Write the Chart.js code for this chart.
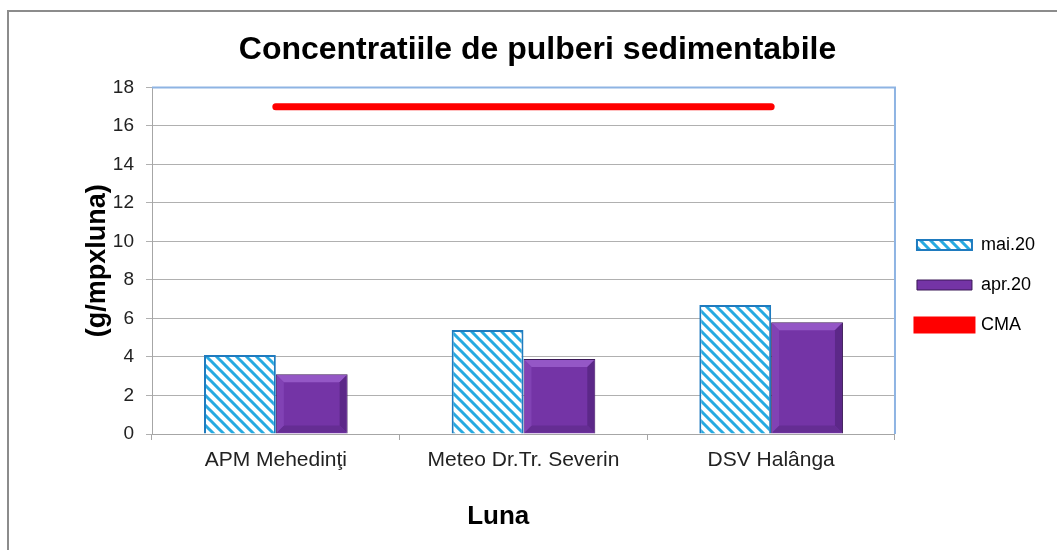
<!DOCTYPE html>
<html>
<head>
<meta charset="utf-8">
<script src="https://cdn.jsdelivr.net/npm/chart.js@4.4.1/dist/chart.umd.min.js"></script>
<style>
  html, body { margin: 0; padding: 0; background: #fff; }
  #wrap { width: 1057px; height: 550px; }
</style>
</head>
<body>
<div id="wrap"><canvas id="pulberiChart" width="1057" height="550"></canvas></div>
<script>
// Date
const statii = ['APM Mehedinţi', 'Meteo Dr.Tr. Severin', 'DSV Halânga'];
const mai20 = [4.1, 5.4, 6.7];
const apr20 = [3.1, 3.9, 5.8];
const cma = [17, 17, 17];

const FONT = 'Liberation Sans, Arial, sans-serif';

// Hasura diagonala albastra pentru mai.20
function hatchPattern() {
    const c = document.createElement('canvas');
    c.width = 10; c.height = 10;
    const g = c.getContext('2d');
    g.fillStyle = '#ffffff';
    g.fillRect(0, 0, 10, 10);
    g.strokeStyle = '#27aae1';
    g.lineWidth = 3;
    g.beginPath();
    g.moveTo(-2, -2); g.lineTo(12, 12);
    g.moveTo(-7, 3); g.lineTo(7, 17);
    g.moveTo(3, -7); g.lineTo(17, 7);
    g.stroke();
    return g.createPattern(c, 'repeat');
}
const hasura = hatchPattern();

// Chenar exterior + margini albastre ale zonei graficului
const chenar = {
    id: 'chenar',
    beforeDraw(chart) {
        const ctx = chart.ctx;
        ctx.save();
        ctx.fillStyle = '#ffffff';
        ctx.fillRect(0, 0, chart.width, chart.height);
        ctx.strokeStyle = '#8c8c8c';
        ctx.lineWidth = 2;
        ctx.beginPath();
        ctx.moveTo(8, chart.height);
        ctx.lineTo(8, 11);
        ctx.lineTo(chart.width, 11);
        ctx.stroke();
        ctx.restore();
    },
    afterDatasetsDraw(chart) {
        const ctx = chart.ctx;
        // efect de relief pe barele apr.20
        const meta = chart.getDatasetMeta(1);
        const b = 7;
        meta.data.forEach(bar => {
            const l = bar.x - bar.width / 2 + 1, r = bar.x + bar.width / 2 - 1;
            const t = bar.y + 1, bo = bar.base - 1;
            const faces = [
                ['#9457c6', [[l, t], [r, t], [r - b, t + b], [l + b, t + b]]],
                ['#5c2888', [[r, t], [r, bo], [r - b, bo - b], [r - b, t + b]]],
                ['#652d93', [[l, bo], [r, bo], [r - b, bo - b], [l + b, bo - b]]],
                ['#8142b4', [[l, t], [l + b, t + b], [l + b, bo - b], [l, bo]]]
            ];
            faces.forEach(([col, pts]) => {
                ctx.fillStyle = col;
                ctx.beginPath();
                ctx.moveTo(pts[0][0], pts[0][1]);
                pts.slice(1).forEach(p => ctx.lineTo(p[0], p[1]));
                ctx.closePath();
                ctx.fill();
            });
        });
        const a = chart.chartArea;
        ctx.save();
        ctx.strokeStyle = '#8eb4e3';
        ctx.lineWidth = 2;
        ctx.beginPath();
        ctx.moveTo(a.left, a.top);
        ctx.lineTo(a.right, a.top);
        ctx.lineTo(a.right, a.bottom);
        ctx.stroke();
        ctx.restore();
    }
};

const ctx = document.getElementById('pulberiChart').getContext('2d');
const pulberiChart = new Chart(ctx, {
    type: 'bar',
    data: {
        labels: statii,
        datasets: [{
            label: 'mai.20',
            data: mai20,
            backgroundColor: hasura,
            borderColor: '#1f7bbf',
            borderWidth: 2,
            order: 2
        }, {
            label: 'apr.20',
            data: apr20,
            backgroundColor: '#7434a6',
            borderColor: '#3a1856',
            borderWidth: 1,
            order: 2
        }, {
            type: 'line',
            label: 'CMA',
            data: cma,
            borderColor: '#ff0000',
            backgroundColor: '#ff0000',
            borderWidth: 7,
            borderCapStyle: 'round',
            pointRadius: 0,
            fill: false,
            order: 1
        }]
    },
    options: {
        responsive: false,
        animation: false,
        devicePixelRatio: 1,
        layout: { padding: { left: 30, right: 12, top: 20, bottom: 0 } },
        datasets: {
            bar: { categoryPercentage: 0.58, barPercentage: 1.0 }
        },
        plugins: {
            title: {
                display: true,
                text: 'Concentratiile de pulberi sedimentabile',
                color: '#000',
                font: { family: FONT, size: 32, weight: 'bold' },
                padding: { top: 11, bottom: 18 }
            },
            legend: {
                position: 'right',
                labels: {
                    color: '#000',
                    font: { family: FONT, size: 18 },
                    boxWidth: 55,
                    boxHeight: 10,
                    padding: 22,
                    sort: (a, b) => a.datasetIndex - b.datasetIndex
                }
            },
            tooltip: { enabled: false }
        },
        scales: {
            x: {
                offset: true,
                grid: { display: true, drawOnChartArea: false, drawTicks: true, tickLength: 6, color: '#a6a6a6' },
                border: { display: true, color: '#a6a6a6', width: 1 },
                ticks: { color: '#222', font: { family: FONT, size: 21 }, padding: 8, maxRotation: 0 },
                title: {
                    display: true,
                    text: 'Luna       ',
                    color: '#000',
                    font: { family: FONT, size: 26, weight: 'bold' },
                    padding: { top: 20, bottom: 18 }
                },
                afterFit(scale) { scale.height = 116; }
            },
            y: {
                min: 0,
                max: 18,
                grid: { color: '#b0b0b0', tickLength: 6, drawTicks: true },
                border: { display: true, color: '#a6a6a6', width: 1 },
                ticks: { stepSize: 2, color: '#222', font: { family: FONT, size: 19 }, padding: 12 },
                title: {
                    display: true,
                    text: '(g/mpxluna)',
                    color: '#000',
                    font: { family: FONT, size: 27, weight: 'bold' },
                    padding: { top: 51, bottom: 0 }
                },
                afterFit(scale) { scale.width = 122; }
            }
        }
    },
    plugins: [chenar]
});
</script>
</body>
</html>
